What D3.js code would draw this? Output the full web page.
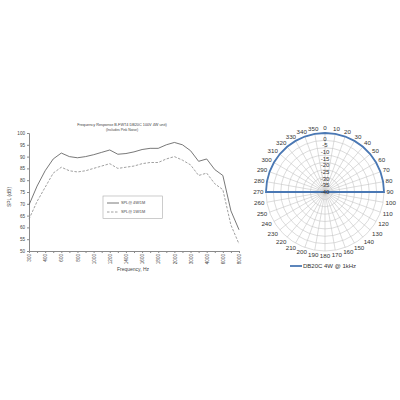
<!DOCTYPE html>
<html><head><meta charset="utf-8">
<script src="https://cdn.jsdelivr.net/npm/d3@7"></script>
<style>body{margin:0;background:#fff}svg{display:block}</style>
</head><body>
<svg id="c" width="400" height="400"></svg>
<script>
// ---- Frequency response data ----
const freqs = ["300","350","400","500","600","700","800","900","1000","1100","1200","1300","1400","1500","1600","1700","1800","1900","2000","2500","3000","3500","4000","5000","6000","7000","8000"];
const freqLabels = ["300","400","600","800","1000","1200","1400","1600","1800","2000","3000","4000","6000","8000"];
const spl4W = [69.5,77.5,84,89,91.5,90,89.5,90,90.8,91.8,92.8,91,91.3,92,93,93.5,93.5,95,96,95,92.5,88,89,84.5,82,67,59];
const spl1W = [63.5,71,77,83,85.5,84,83.5,84,85,86,87,85,85.5,86,87,87.5,87.5,89,90,88.5,86.5,82,83,78.5,76,61,53];
const yTicks = [50,55,60,65,70,75,80,85,90,95,100];
const seriesNames = ["SPL@ 4W/1M","SPL@ 1W/1M"];
const titleLines = ["Frequency Response B-FWT4 DB20C 100V 4W unit)","(Includes Pink Noise)"];

// ---- Polar data ----
const angles = d3.range(0,360,10);
const polarValues = [0,0,0,0,0,0,0,0,0,0,-40,-40,-40,-40,-40,-40,-40,-40,-40,-40,-40,-40,-40,-40,-40,-40,-40,0,0,0,0,0,0,0,0,0];
const ringTicks = [0,-5,-10,-15,-20,-25,-30,-35,-40];
const polarSeriesName = "DB20C 4W @ 1kHz";

const svg = d3.select("#c");
const axisCol = "#8a8a8a", textCol = "#444";
const FF = "Liberation Sans, Arial, sans-serif";

// ===== Left chart =====
const x = d3.scalePoint().domain(freqs).range([29, 239]);
const y = d3.scaleLinear().domain([50,100]).range([251,133]);

const gl = svg.append("g").attr("font-family",FF);
gl.selectAll("text.t").data(titleLines).join("text")
  .attr("x",122).attr("y",(d,i)=>126+i*4.5).attr("text-anchor","middle")
  .attr("font-size",(d,i)=>i?3.4:3.8).attr("fill",textCol).text(d=>d);

const yAxis = d3.axisLeft(y).tickValues(yTicks).tickSize(2).tickPadding(2);
const gy = gl.append("g").attr("transform","translate(29,0)").call(yAxis);
gy.select(".domain").attr("stroke",axisCol);
gy.selectAll(".tick line").attr("stroke",axisCol);
gy.selectAll(".tick text").attr("font-size",4.6).attr("fill",textCol).attr("font-family",FF);

const xAxis = d3.axisBottom(x).tickSize(2).tickPadding(2)
  .tickFormat(d=>freqLabels.includes(d)?d:"");
const gx = gl.append("g").attr("transform","translate(0,251)").call(xAxis);
gx.select(".domain").attr("stroke",axisCol);
gx.selectAll(".tick line").attr("stroke",axisCol);
gx.selectAll(".tick text").attr("font-size",4.6).attr("fill",textCol)
  .attr("font-family",FF)
  .attr("transform","rotate(-90)").attr("text-anchor","end")
  .attr("x",-3).attr("y",0).attr("dy","0.35em");

gl.append("text").attr("x",133).attr("y",271).attr("text-anchor","middle")
  .attr("font-size",5).attr("fill",textCol).text("Frequency, Hz");
gl.append("text").attr("transform","translate(11,197) rotate(-90)").attr("text-anchor","middle")
  .attr("font-size",5).attr("fill",textCol).text("SPL (dB)");

const line = d3.line().x((d,i)=>x(freqs[i])).y(d=>y(d));
gl.append("path").datum(spl4W).attr("d",line).attr("fill","none")
  .attr("stroke","#555").attr("stroke-width",0.8);
gl.append("path").datum(spl1W).attr("d",line).attr("fill","none")
  .attr("stroke","#888").attr("stroke-width",0.8).attr("stroke-dasharray","2.5,1.5");

gl.append("rect").attr("x",103).attr("y",196).attr("width",59.5).attr("height",22.5)
  .attr("fill","#fff").attr("stroke","#aaa").attr("stroke-width",0.6);
const leg = gl.selectAll("g.leg").data(seriesNames).join("g")
  .attr("transform",(d,i)=>`translate(107,${203+i*9})`);
leg.append("line").attr("x1",0).attr("x2",12).attr("y1",0).attr("y2",0)
  .attr("stroke",(d,i)=>i?"#888":"#555").attr("stroke-width",0.8)
  .attr("stroke-dasharray",(d,i)=>i?"2.5,1.5":null);
leg.append("text").attr("x",14).attr("y",0).attr("dy","0.35em")
  .attr("font-size",3.8).attr("fill",textCol).text(d=>d);

// ===== Polar chart =====
const cx = 325, cy = 192, R = 59;
const r = d3.scaleLinear().domain([-40,0]).range([0,R]);
const rLab = d3.scaleLinear().domain([-40,0]).range([0,53.5]);
const gp = svg.append("g").attr("transform",`translate(${cx},${cy})`).attr("font-family",FF);
const toRad = a => a*Math.PI/180;

gp.selectAll("circle.ring").data(ringTicks.filter(v=>v>-40)).join("circle")
  .attr("r",d=>r(d)).attr("fill","none").attr("stroke","#c4c4c4").attr("stroke-width",0.6);
gp.selectAll("line.spoke").data(angles).join("line")
  .attr("x1",0).attr("y1",0)
  .attr("x2",d=>R*Math.sin(toRad(d))).attr("y2",d=>-R*Math.cos(toRad(d)))
  .attr("stroke","#c4c4c4").attr("stroke-width",0.6);

// angle labels: text box placed just outside the outer ring
const angFs = 6.2, angR = 61.5;
const angText = gp.selectAll("text.ang").data(angles).join("text")
  .attr("dy","0.35em").attr("text-anchor","middle")
  .attr("font-size",angFs).attr("fill","#333").text(d=>d);
angText.each(function(d){
  const w = this.getComputedTextLength(), h = angFs*0.75;
  const s = Math.sin(toRad(d)), c = Math.cos(toRad(d));
  d3.select(this).attr("x",(angR + w/2*Math.abs(s) + h/2*Math.abs(c)*0)*s + (w/2)*s*0)
    .attr("y",0);
  const ex = angR*s + (w/2)*Math.sign(Math.round(s*1000)/1000)*Math.min(1,Math.abs(s)*1.3);
  const ey = -angR*c - (h/2)*Math.sign(Math.round(c*1000)/1000)*Math.min(1,Math.abs(c)*1.3);
  d3.select(this).attr("x",ex).attr("y",ey);
});

const radial = d3.lineRadial().angle((d,i)=>toRad(angles[i])).radius(d=>r(d)).curve(d3.curveLinearClosed);
gp.append("path").datum(polarValues).attr("d",radial).attr("fill","none")
  .attr("stroke","#4a78b4").attr("stroke-width",1.8);
gp.selectAll("text.rl").data(ringTicks).join("text")
  .attr("x",0).attr("y",d=>-rLab(d)).attr("dy","0.35em").attr("text-anchor","middle")
  .attr("font-size",6).attr("fill","#333").text(d=>d);

const pl = svg.append("g").attr("transform","translate(290,266)");
pl.append("line").attr("x1",0).attr("x2",12).attr("stroke","#4a78b4").attr("stroke-width",1.8);
pl.append("text").attr("x",13).attr("y",0).attr("dy","0.35em").attr("font-size",6)
  .attr("font-family",FF).attr("fill","#333").text(polarSeriesName);
</script>
</body></html>
